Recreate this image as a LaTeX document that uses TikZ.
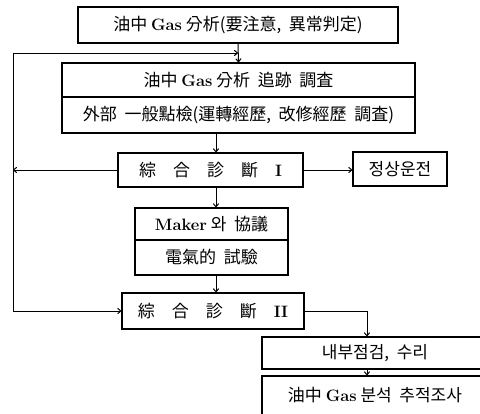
\documentclass[tikz,border=0pt]{standalone}
\usepackage{fontspec}
\newfontfamily\ck{Noto Sans CJK KR}
\usetikzlibrary{arrows.meta}
\newcommand\fs{\fontsize{17}{20}\selectfont}
\newcommand\lt[1]{{\rmfamily\bfseries\fontsize{16.5}{20}\selectfont #1}}
\begin{document}
\begin{tikzpicture}[x=1pt,y=-1pt,
  box/.style={draw,line width=1.3pt,inner sep=0pt,align=center,font=\fs\ck},
  con/.style={line width=1pt,-{To[length=4pt,width=6pt]}},
  ln/.style={line width=1pt}]
\useasboundingbox (0,0) rectangle (480,413);
\fill[white] (0,0) rectangle (480,413);
\begin{scope}
\clip (0,0) rectangle (480,413);
\node[box,minimum width=320pt,minimum height=36pt] (b1) at (238,25)
  {油中 \lt{Gas} 分析(要注意,\ \ 異常判定)};
\node[box,minimum width=353pt,minimum height=34pt] (b2a) at (238.5,80)
  {油中 \lt{Gas} 分析\ \ 追跡\ \ 調査};
\node[box,minimum width=353pt,minimum height=36pt] (b2b) at (238.5,115)
  {外部\ \ 一般點檢(運轉經歷,\ \ 改修經歷\ \ 調査)};
\node[box,minimum width=185pt,minimum height=34pt] (bI) at (210.5,170)
  {綜\quad 合\quad 診\quad 斷\quad \lt{I}};
\node[box,minimum width=94pt,minimum height=34pt] (nr) at (400,169)
  {정상운전};
\node[box,minimum width=153pt,minimum height=32pt] (ma) at (211.5,224)
  {\lt{Maker} 와\ \ 協議};
\node[box,minimum width=153pt,minimum height=35pt] (mb) at (211.5,257.5)
  {電氣的\ \ 試驗};
\node[box,minimum width=182pt,minimum height=36pt] (bII) at (213,311)
  {綜\quad 合\quad 診\quad 斷\quad \lt{II}};
\node[box,minimum width=226pt,minimum height=32pt] (in) at (375,353)
  {내부점검,\ \ 수리};
\node[box,minimum width=226pt,minimum height=42pt,text depth=0pt] (bt) at (375,397)
  {\raisebox{5pt}{油中 \lt{Gas} 분석\ \ 추적조사}};
\coordinate (L1) at (13,53);
\coordinate (jn) at (238,53);
\coordinate (vx) at (216,0);
\coordinate (vx2) at (367,0);
\draw[con] (b1.south) -- (b2a.north);
\draw[con] (L1) -- (jn);
\draw[con] (L1) |- (bII.west);
\draw[con] (b2b.south -| vx) -- (bI.north -| vx);
\draw[con] (bI.west) -- (bI.west -| L1);
\draw[con] (bI.east) -- (bI.east -| nr.west);
\draw[con] (bI.south -| vx) -- (ma.north -| vx);
\draw[con] (mb.south -| vx) -- (bII.north -| vx);
\draw[con] (bII.east) -| (in.north -| vx2);
\draw[con] (in.south -| vx2) -- (bt.north -| vx2);
\end{scope}
\end{tikzpicture}
\end{document}
